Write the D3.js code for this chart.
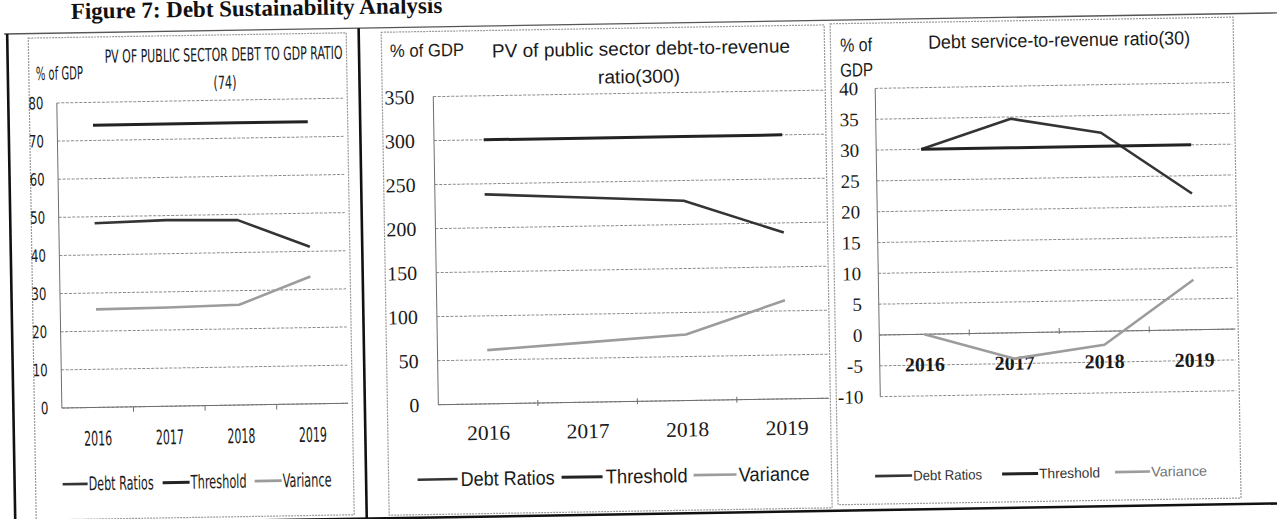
<!DOCTYPE html>
<html>
<head>
<meta charset="utf-8">
<script src="https://cdn.jsdelivr.net/npm/d3@7"></script>
<style>
  body { margin: 0; background: #fff; }
  svg { display: block; }
</style>
</head>
<body>
<svg id="fig" width="1277" height="519"></svg>
<script>
// ---- data ----
const years = ["2016", "2017", "2018", "2019"];
const seriesNames = ["Debt Ratios", "Threshold", "Variance"];

// PV of public sector debt to GDP ratio (threshold 74)
const pvDebtGdpDebt = [48.3, 48.8, 48.5, 41.2];
const pvDebtGdpThreshold = [74, 74, 74, 74];
const pvDebtGdpVariance = [25.7, 25.9, 26.3, 33.4];
const pvDebtGdpTicks = [0, 10, 20, 30, 40, 50, 60, 70, 80];

// PV of public sector debt-to-revenue ratio (threshold 300)
const pvDebtRevDebt = [238, 232.5, 227, 189];
const pvDebtRevThreshold = [300, 300, 300, 300];
const pvDebtRevVariance = [61, 68, 75, 112];
const pvDebtRevTicks = [0, 50, 100, 150, 200, 250, 300, 350];

// Debt service-to-revenue ratio (threshold 30)
const serviceRevDebt = [30, 34.7, 32.2, 22.1];
const serviceRevThreshold = [30, 30, 30, 30];
const serviceRevVariance = [0, -4.2, -2.2, 8.1];
const serviceRevTicks = [-10, -5, 0, 5, 10, 15, 20, 25, 30, 35, 40];

// ---- drawing ----
const svg = d3.select("#fig");
svg.append("rect").attr("width", 1277).attr("height", 519).attr("fill", "#fff");

// the printed page sits slightly askew
const page = svg.append("g").attr("transform", "rotate(-0.95,640,260)");

const seriesStyle = [
  { color: "#343434", width: 2.6 },
  { color: "#232323", width: 3 },
  { color: "#9c9c9c", width: 2.6 }
];

// page title
page.append("text")
  .attr("x", 75).attr("y", 9.5)
  .attr("font-family", "'Liberation Serif', 'Times New Roman', serif")
  .attr("font-weight", "bold")
  .attr("font-size", 23)
  .attr("fill", "#111")
  .text("Figure 7: Debt Sustainability Analysis");

// outer figure rules
const rules = page.append("g");
rules.append("line").attr("x1", 8).attr("x2", 1300).attr("y1", 23.5).attr("y2", 23.5)
  .attr("stroke", "#555").attr("stroke-width", 1.3);
rules.append("line").attr("x1", 11).attr("x2", 11).attr("y1", 23.5).attr("y2", 540)
  .attr("stroke", "#111").attr("stroke-width", 2.6);
rules.append("line").attr("x1", 362.5).attr("x2", 362.5).attr("y1", 23.5).attr("y2", 540)
  .attr("stroke", "#111").attr("stroke-width", 2.6);
rules.append("line").attr("x1", 0).attr("x2", 1300).attr("y1", 514).attr("y2", 514)
  .attr("stroke", "#111").attr("stroke-width", 2.6);

function addText(g, o) {
  const t = g.append("text")
    .attr("x", o.x).attr("y", o.y)
    .attr("font-family", o.family)
    .attr("font-size", o.size)
    .attr("font-weight", o.weight || "normal")
    .attr("fill", o.fill || "#1a1a1a")
    .attr("text-anchor", o.anchor || "start")
    .text(o.text);
  if (o.len) t.attr("textLength", o.len).attr("lengthAdjust", "spacingAndGlyphs");
  return t;
}

function drawPanel(c) {
  const g = page.append("g");

  // chart area border
  g.append("rect")
    .attr("x", c.frame[0]).attr("y", c.frame[1])
    .attr("width", c.frame[2]).attr("height", c.frame[3])
    .attr("fill", "none").attr("stroke", "#9a9a9a")
    .attr("stroke-width", 1.2).attr("stroke-dasharray", "2,1");

  const x = d3.scaleBand().domain(years)
    .range([c.left, c.left + c.band * years.length]).padding(0);
  const y = d3.scaleLinear().domain(c.domain).range([c.bottom, c.top]);
  const cx = d => x(d) + x.bandwidth() / 2;

  // horizontal gridlines
  g.append("g").selectAll("line").data(c.ticks).join("line")
    .attr("x1", c.left).attr("x2", c.gridRight)
    .attr("y1", d => y(d)).attr("y2", d => y(d))
    .attr("stroke", "#8c8c8c").attr("stroke-width", 1)
    .attr("stroke-dasharray", "3,1.5");

  // value axis
  g.append("line")
    .attr("x1", c.left).attr("x2", c.left)
    .attr("y1", y(c.domain[1])).attr("y2", y(c.domain[0]))
    .attr("stroke", "#6e6e6e").attr("stroke-width", 1);

  // category axis with marks between categories
  const y0 = y(0);
  g.append("line")
    .attr("x1", c.left).attr("x2", c.gridRight)
    .attr("y1", y0).attr("y2", y0)
    .attr("stroke", "#6e6e6e").attr("stroke-width", 1);
  g.append("g").selectAll("line").data(years.slice(1)).join("line")
    .attr("x1", d => x(d)).attr("x2", d => x(d))
    .attr("y1", y0 - c.tickUp).attr("y2", y0 + c.tickDown)
    .attr("stroke", "#6e6e6e").attr("stroke-width", 1);

  // value labels
  c.ticks.forEach(v => {
    const s = String(v);
    addText(g, {
      x: c.yLabelRight, y: y(v) + c.yLabelShift, text: s,
      family: c.numFamily, size: c.yLabelSize, anchor: "end",
      len: c.digitW ? s.length * c.digitW : null
    });
  });

  // category labels
  years.forEach(yr => {
    addText(g, {
      x: cx(yr), y: y0 + c.yearOffset, text: yr,
      family: c.yearFamily, size: c.yearSize, weight: c.yearWeight,
      anchor: "middle", len: c.yearLen
    });
  });

  // series lines
  const line = d3.line().x((d, i) => cx(years[i])).y(d => y(d));
  c.series.forEach((vals, k) => {
    g.append("path").datum(vals)
      .attr("d", line)
      .attr("fill", "none")
      .attr("stroke", seriesStyle[k].color)
      .attr("stroke-width", seriesStyle[k].width)
      .attr("stroke-linejoin", "round");
  });

  // titles and unit label
  c.texts.forEach(t => addText(g, Object.assign({ family: c.textFamily }, t)));

  // legend
  seriesNames.forEach((name, k) => {
    const L = c.legend[k];
    g.append("line")
      .attr("x1", L.x0).attr("x2", L.x1)
      .attr("y1", c.legendY).attr("y2", c.legendY)
      .attr("stroke", seriesStyle[k].color)
      .attr("stroke-width", seriesStyle[k].width);
    addText(g, {
      x: L.tx, y: c.legendY + c.legendShift, text: name,
      family: c.textFamily, size: c.legendSize, len: L.w,
      fill: c.legendFill ? c.legendFill[k] : "#1a1a1a"
    });
  });
}

const narrow = "'Liberation Sans Narrow', 'DejaVu Sans Condensed', 'Liberation Sans', sans-serif";
const sans = "'Liberation Sans', 'Open Sans', sans-serif";
const serif = "'Liberation Serif', 'DejaVu Serif', serif";

drawPanel({
  frame: [32, 28, 318, 482],
  left: 59.5, band: 71.6, top: 93.3, bottom: 398.4, gridRight: 345.6,
  domain: [0, 80], ticks: pvDebtGdpTicks,
  series: [pvDebtGdpDebt, pvDebtGdpThreshold, pvDebtGdpVariance],
  numFamily: narrow, yLabelRight: 46, yLabelShift: 6, yLabelSize: 17, digitW: 7.5,
  yearFamily: narrow, yearSize: 20, yearOffset: 38, yearLen: 28,
  tickUp: 0, tickDown: 5,
  textFamily: narrow,
  texts: [
    { x: 227, y: 54, text: "PV OF PUBLIC SECTOR DEBT TO GDP RATIO", size: 18, anchor: "middle", len: 238 },
    { x: 228, y: 82, text: "(74)", size: 18, anchor: "middle", len: 23 },
    { x: 39, y: 70, text: "% of GDP", size: 18, len: 47 }
  ],
  legendY: 474.7, legendShift: 6.5, legendSize: 19,
  legend: [
    { x0: 59, x1: 84, tx: 85, w: 65 },
    { x0: 159, x1: 186, tx: 187, w: 56 },
    { x0: 251, x1: 278, tx: 279, w: 49 }
  ]
});

drawPanel({
  frame: [385, 28, 443, 483],
  left: 436, band: 99.5, top: 93.2, bottom: 401.3, gridRight: 826.5,
  domain: [0, 350], ticks: pvDebtRevTicks,
  series: [pvDebtRevDebt, pvDebtRevThreshold, pvDebtRevVariance],
  numFamily: serif, yLabelRight: 417, yLabelShift: 7, yLabelSize: 20,
  yearFamily: serif, yearSize: 21, yearOffset: 36, yearLen: 43,
  tickUp: 3, tickDown: 3,
  textFamily: sans,
  texts: [
    { x: 393.5, y: 53, text: "% of GDP", size: 18, len: 74 },
    { x: 644.5, y: 55, text: "PV of public sector debt-to-revenue", size: 19, anchor: "middle", len: 298 },
    { x: 642, y: 83, text: "ratio(300)", size: 19, anchor: "middle", len: 82 }
  ],
  legendY: 476, legendShift: 7, legendSize: 20,
  legend: [
    { x0: 414, x1: 454, tx: 457, w: 94 },
    { x0: 558, x1: 599, tx: 602, w: 82 },
    { x0: 690, x1: 733, tx: 735, w: 71 }
  ]
});

drawPanel({
  frame: [834, 27, 403, 481],
  left: 878, band: 90, top: 92.3, bottom: 400.6, gridRight: 1234,
  domain: [-10, 40], ticks: serviceRevTicks,
  series: [serviceRevDebt, serviceRevThreshold, serviceRevVariance],
  numFamily: serif, yLabelRight: 861, yLabelShift: 6.5, yLabelSize: 19,
  yearFamily: serif, yearSize: 20, yearWeight: "bold", yearOffset: 37, yearLen: 40,
  tickUp: 4, tickDown: 2,
  textFamily: sans,
  texts: [
    { x: 843.6, y: 55, text: "% of", size: 19, len: 32 },
    { x: 843.2, y: 80, text: "GDP", size: 19, len: 33 },
    { x: 1062.7, y: 53.5, text: "Debt service-to-revenue ratio(30)", size: 19, anchor: "middle", len: 262 }
  ],
  legendY: 480, legendShift: 5, legendSize: 14,
  legendFill: ["#333", "#333", "#777"],
  legend: [
    { x0: 871.5, x1: 908.5, tx: 909.5, w: 69 },
    { x0: 998.5, x1: 1034.5, tx: 1035.5, w: 61 },
    { x0: 1111.5, x1: 1146.5, tx: 1147.5, w: 56 }
  ]
});
</script>
</body>
</html>
